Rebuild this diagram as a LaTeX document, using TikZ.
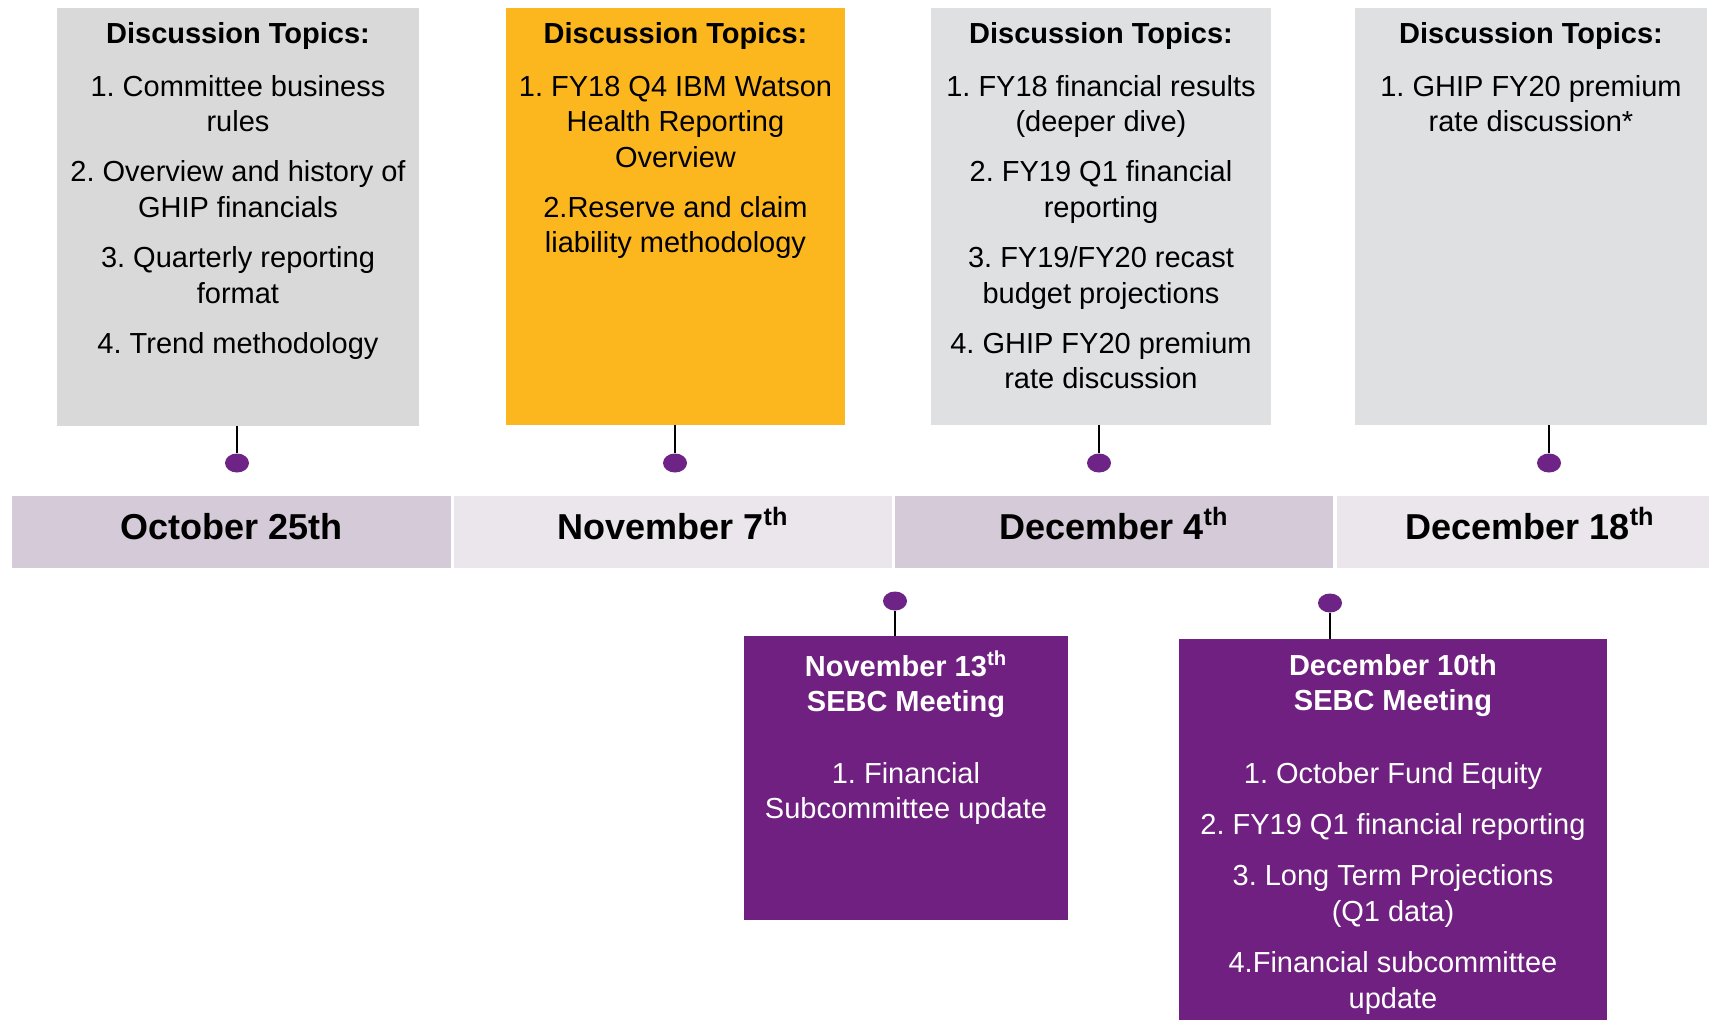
\documentclass[tikz,border=0pt]{standalone}
\usepackage{xcolor}
\usepackage{fontspec}
\setmainfont{Liberation Sans}
\usepackage{tikz}
\usetikzlibrary{shapes.geometric}
\frenchspacing

\definecolor{boxgray}{HTML}{D9D9D9}
\definecolor{boxgrayb}{HTML}{DFE0E2}
\definecolor{boxorange}{HTML}{FCB71E}
\definecolor{meetpurple}{HTML}{6F2080}
\definecolor{pindot}{HTML}{6E2487}
\definecolor{bardark}{HTML}{D5CAD8}
\definecolor{barlight}{HTML}{EAE6EC}

\begin{document}
\begin{tikzpicture}[x=0.02cm, y=-0.02cm,
    topicbox/.style={anchor=north west, inner sep=0pt, outer sep=0pt},
    topictext/.style={anchor=north, inner sep=0pt, align=center,
        font=\fontsize{16.5}{20.2}\selectfont},
    pin/.style={ellipse, fill=pindot, minimum width=0.48cm, minimum height=0.38cm, inner sep=0pt},
    stem/.style={line width=1pt},
    dateseg/.style={anchor=north west, inner sep=0pt, outer sep=0pt, minimum height=1.44cm,
        text height=0.38cm, text depth=0.1cm, font=\fontsize{20.5}{24}\selectfont\bfseries}]
    % Page size
    \fill[white] (0,0) rectangle (1709,1019);
    \useasboundingbox (0,0) rectangle (1709,1019);

    % Discussion topic boxes
    \node[topicbox, fill=boxgray, minimum width=7.24cm, minimum height=8.36cm] (t1) at (57,8) {};
    \node[topicbox, fill=boxorange, minimum width=6.78cm, minimum height=8.34cm] (t2) at (506,8) {};
    \node[topicbox, fill=boxgrayb, minimum width=6.80cm, minimum height=8.34cm] (t3) at (931,8) {};
    \node[topicbox, fill=boxgrayb, minimum width=7.04cm, minimum height=8.34cm] (t4) at (1355,8) {};

    \node[topictext] (t1text) at ([yshift=-0.28cm]t1.north) {\textbf{Discussion Topics:}\\[9.8pt]
        1. Committee business\\rules\\[8.4pt]
        2. Overview and history of\\GHIP financials\\[8.4pt]
        3. Quarterly reporting\\format\\[8.4pt]
        4. Trend methodology};
    \node[topictext] (t2text) at ([yshift=-0.28cm]t2.north) {\textbf{Discussion Topics:}\\[9.8pt]
        1. FY18 Q4 IBM Watson\\Health Reporting\\Overview\\[8.4pt]
        2.Reserve and claim\\liability methodology};
    \node[topictext] (t3text) at ([yshift=-0.28cm]t3.north) {\textbf{Discussion Topics:}\\[9.8pt]
        1. FY18 financial results\\(deeper dive)\\[8.4pt]
        2. FY19 Q1 financial\\reporting\\[8.4pt]
        3. FY19/FY20 recast\\budget projections\\[8.4pt]
        4. GHIP FY20 premium\\rate discussion};
    \node[topictext] (t4text) at ([yshift=-0.28cm]t4.north) {\textbf{Discussion Topics:}\\[9.8pt]
        1. GHIP FY20 premium\\rate discussion*};

    % Timeline bar
    \foreach \i/\x/\w/\c/\lab in {1/12/8.78cm/bardark/October 25th,
                                  2/454/8.76cm/barlight/November 7\textsuperscript{th},
                                  3/895/8.76cm/bardark/December 4\textsuperscript{th},
                                  4/1337/7.72cm/barlight/December 18\textsuperscript{th}} {
        \node[dateseg, fill=\c, minimum width=\w] (seg\i) at (\x,496) {\lab};
    }

    % Pins above the bar
    \foreach \i/\x in {1/237,2/675,3/1099,4/1549} {
        \node[pin] (d\i) at (\x,463) {};
        \draw[stem] (d\i.north) -- (d\i |- t\i.south);
    }

    % SEBC meeting boxes
    \node[topicbox, fill=meetpurple, minimum width=6.48cm, minimum height=5.68cm] (m1) at (744,636) {};
    \node[topicbox, fill=meetpurple, minimum width=8.56cm, minimum height=7.62cm] (m2) at (1179,639) {};

    \node[topictext, text=white] (m1text) at ([yshift=-0.28cm]m1.north) {\textbf{November 13\textsuperscript{th}}\\
        \textbf{SEBC Meeting}\\[20.5pt]
        1. Financial\\Subcommittee update};
    \node[topictext, text=white] (m2text) at ([yshift=-0.3cm]m2.north) {\textbf{December 10th}\\
        \textbf{SEBC Meeting}\\[21pt]
        1. October Fund Equity\\[9pt]
        2. FY19 Q1 financial reporting\\[9pt]
        3. Long Term Projections\\(Q1 data)\\[9pt]
        4.Financial subcommittee\\update};

    % Pins below the bar
    \node[pin] (d5) at (895,601) {};
    \draw[stem] (d5.south) -- (d5 |- m1.north);
    \node[pin] (d6) at (1330,603) {};
    \draw[stem] (d6.south) -- (d6 |- m2.north);
\end{tikzpicture}
\end{document}
